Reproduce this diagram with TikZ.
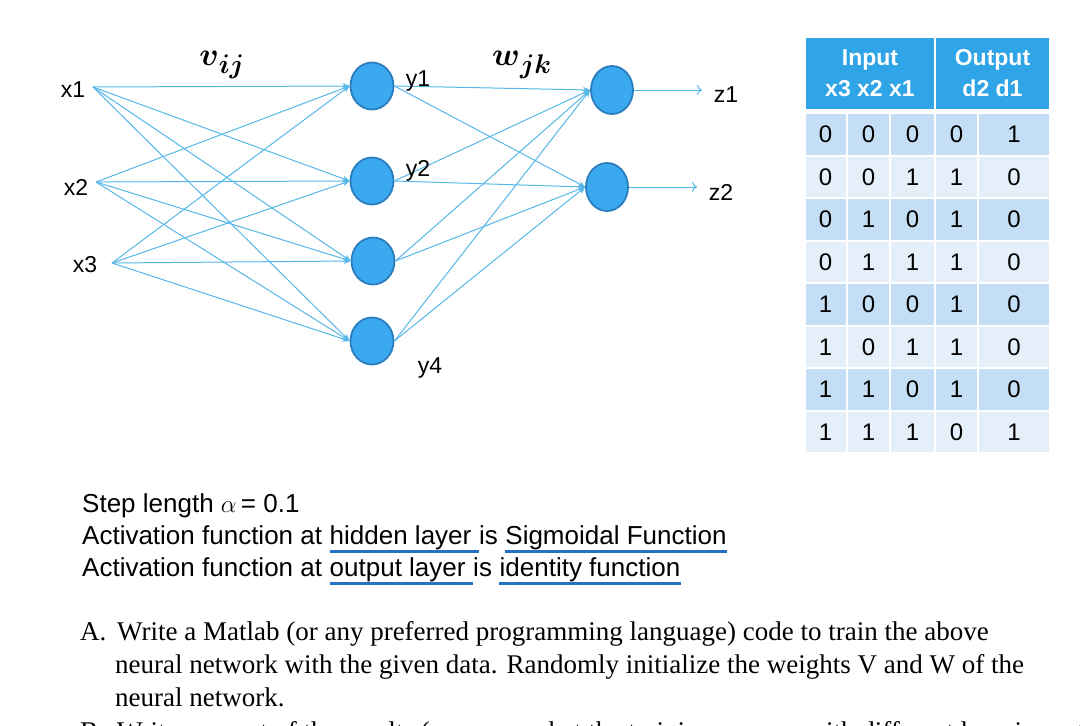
\documentclass[tikz,border=0pt]{standalone}
\usepackage{amsmath}
\usepackage{graphicx}
\usepackage{fontspec}
\setmainfont{Liberation Serif}
\setsansfont{Liberation Sans}
\usetikzlibrary{arrows.meta,shapes.geometric}
\definecolor{edgeblue}{HTML}{55B8E8}
\definecolor{nodefill}{HTML}{3AA9F0}
\definecolor{nodeborder}{HTML}{2A7DBD}
\definecolor{hdrblue}{HTML}{2FA4E7}
\definecolor{rowdark}{HTML}{C4DFF5}
\definecolor{rowlight}{HTML}{E4EFFA}
\definecolor{ulblue}{HTML}{2372C4}
\begin{document}
\begin{tikzpicture}[x=1pt,y=-1pt,
  neuron/.style={ellipse, draw=nodeborder, fill=nodefill, line width=1.8pt,
    minimum width=43pt, minimum height=47pt, inner sep=0pt},
  conn/.style={draw=edgeblue, line width=1pt, -{Stealth[length=7pt,width=6pt]}},
  outarrow/.style={draw=edgeblue, line width=1pt, -{To[length=5pt,width=10pt]}},
  lbl/.style={font=\fontsize{23}{26}\sffamily, inner sep=0pt},
  wlbl/.style={font=\fontsize{24.88}{30}\selectfont, inner sep=0pt},
  hdr/.style={fill=hdrblue, text=white, font=\fontsize{23}{31}\sffamily\bfseries,
    align=center, inner sep=0pt, minimum height=71pt},
  cell/.style={font=\fontsize{24}{28}\sffamily, inner sep=0pt, minimum height=40.5pt},
  sbody/.style={font=\fontsize{26}{30}\sffamily, inner sep=0pt, anchor=base west},
  serifbody/.style={font=\fontsize{27}{32}\rmfamily, inner sep=0pt, anchor=base west},
  uline/.style={draw=ulblue, line width=3pt}
]
\useasboundingbox (0,0) rectangle (1080,726);
\clip (0,0) rectangle (1080,726);
\fill[white] (0,0) rectangle (1080,726);

% input layer
\coordinate (i1) at (93,87);
\coordinate (i2) at (96,182);
\coordinate (i3) at (112,263);
\node[lbl] (x1) at (73,90) {x1};
\node[lbl] (x2) at (76,187) {x2};
\node[lbl] (x3) at (85,265) {x3};

% hidden layer
\node[neuron] (h1) at (372,86) {};
\node[neuron] (h2) at (372,181) {};
\node[neuron] (h3) at (373,261) {};
\node[neuron] (h4) at (372,341) {};

% output layer
\node[neuron, minimum width=42pt, minimum height=48pt] (o1) at (612,90) {};
\node[neuron, minimum width=42pt, minimum height=48pt] (o2) at (607,187) {};

\foreach \i in {1,2,3}
  \foreach \j in {1,2,3,4}
    \draw[conn] (i\i) -- (h\j.west);
\foreach \j in {1,2,3,4}
  \foreach \k in {1,2}
    \draw[conn] (h\j.east) -- (o\k.west);

\coordinate (e1) at (702,90);
\coordinate (e2) at (697,187);
\draw[outarrow] (o1.east) -- (e1);
\draw[outarrow] (o2.east) -- (e2);
\node[lbl] (z1) at (726,95) {z1};
\node[lbl] (z2) at (721,192) {z2};

\node[lbl] (y1) at (418,81) {y1};
\node[lbl] (y2) at (418,171) {y2};
\node[lbl] (y4) at (430,368) {y4};

\node[wlbl] (vij) at (222,65) {\scalebox{1.3}{$\boldsymbol{v}_{\boldsymbol{ij}}$}};
\node[wlbl] (wjk) at (522,65) {\scalebox{1.3}{$\boldsymbol{w}_{\boldsymbol{jk}}$}};

% table
\node[hdr, minimum width=128pt] (hin) at (870,73.5) {Input\\x3 x2 x1};
\node[hdr, minimum width=113pt] (hout) at (992.5,73.5) {Output\\d2 d1};
\foreach \row [count=\r from 0] in {{0,0,0,0,1},{0,0,1,1,0},{0,1,0,1,0},{0,1,1,1,0},
                                   {1,0,0,1,0},{1,0,1,1,0},{1,1,0,1,0},{1,1,1,0,1}} {
  \foreach \v [count=\c] in \row {
    \pgfmathsetmacro\cx{{825.5,868.5,912.5,956.5,1014}[\c-1]}
    \pgfmathsetmacro\cw{{40,41,43,41,70}[\c-1]}
    \pgfmathsetmacro\cy{114+42.5*\r+20.25}
    \ifodd\r
      \node[cell, fill=rowlight, minimum width=\cw pt] (cell-\r-\c) at (\cx,\cy) {\v};
    \else
      \node[cell, fill=rowdark, minimum width=\cw pt] (cell-\r-\c) at (\cx,\cy) {\v};
    \fi
  }
}

% parameters text
\node[sbody] (sl) at (82,512) {Step length $\alpha$\,= 0.1};
\node[sbody] (a2) at (82,544) {Activation function at\ \null};
\node[sbody] (hl) at (a2.base east) {hidden layer\ \null};
\node[sbody] (is2) at (hl.base east) {is\ \null};
\node[sbody] (sf) at (is2.base east) {Sigmoidal Function};
\node[sbody] (a3) at (82,576) {Activation function at\ \null};
\node[sbody] (ol) at (a3.base east) {output layer\ \null};
\node[sbody] (is3) at (ol.base east) {is\ \null};
\node[sbody] (idf) at (is3.base east) {identity function};
\draw[uline] ([yshift=-7pt]hl.base west) -- ([yshift=-7pt]hl.base east);
\draw[uline] ([yshift=-7pt]sf.base west) -- ([yshift=-7pt]sf.base east);
\draw[uline] ([yshift=-7pt]ol.base west) -- ([yshift=-7pt]ol.base east);
\draw[uline] ([yshift=-7pt]idf.base west) -- ([yshift=-7pt]idf.base east);

% question text
\node[serifbody] (qa) at (80,640) {A.};
\node[serifbody] (qa1) at (117,640) {Write a Matlab (or any preferred programming language) code to train the above};
\node[serifbody] (qa2) at (115,673) {neural network with the given data. Randomly initialize the weights V and W of the};
\node[serifbody] (qa3) at (115,706) {neural network.};
\node[serifbody] (qb) at (80,740) {B.};
\node[serifbody] (qb1) at (117,740) {Write a report of the results (compare what the training process with different learning rates};
\end{tikzpicture}
\end{document}
